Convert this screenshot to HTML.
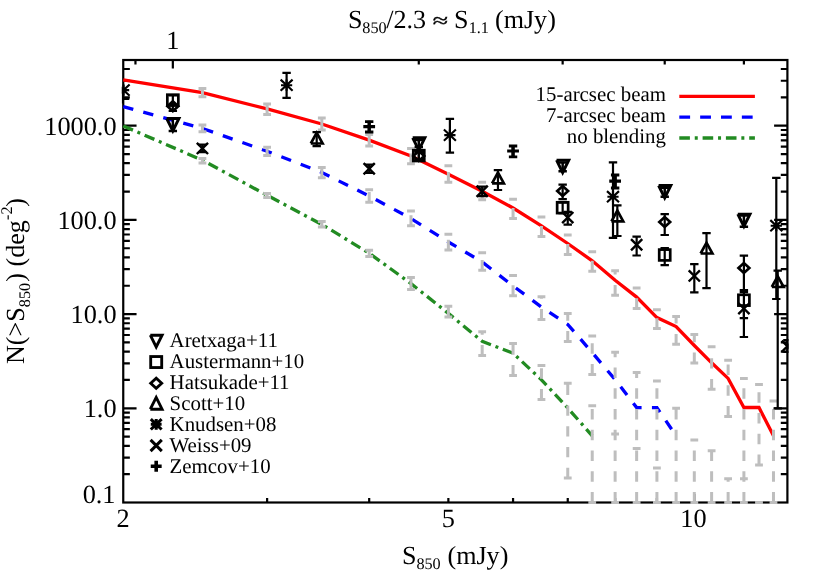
<!DOCTYPE html>
<html><head><meta charset="utf-8"><title>Number counts</title>
<style>
html,body{margin:0;padding:0;background:#fff;}
body{width:830px;height:581px;overflow:hidden;font-family:"Liberation Serif",serif;}
svg{display:block;will-change:transform;}
text{-webkit-font-smoothing:antialiased;text-rendering:geometricPrecision;}
text{fill:#000;}
</style></head><body>
<svg width="830" height="581" viewBox="0 0 830 581">
<rect width="830" height="581" fill="#fff"/>
<defs><clipPath id="pc"><rect x="121.75" y="59" width="666.75" height="444.5"/></clipPath></defs>
<!-- axes -->
<rect x="123.25" y="60" width="664.15" height="442.5" fill="none" stroke="#000" stroke-width="2.2"/>
<path d="M123.25 474.14h6.6M787.4 474.14h-6.6M123.25 457.56h6.6M787.4 457.56h-6.6M123.25 445.79h6.6M787.4 445.79h-6.6M123.25 436.66h6.6M787.4 436.66h-6.6M123.25 429.2h6.6M787.4 429.2h-6.6M123.25 422.89h6.6M787.4 422.89h-6.6M123.25 417.43h6.6M787.4 417.43h-6.6M123.25 412.61h6.6M787.4 412.61h-6.6M123.25 408.3h13.3M787.4 408.3h-13.3M123.25 379.94h6.6M787.4 379.94h-6.6M123.25 363.36h6.6M787.4 363.36h-6.6M123.25 351.59h6.6M787.4 351.59h-6.6M123.25 342.46h6.6M787.4 342.46h-6.6M123.25 335h6.6M787.4 335h-6.6M123.25 328.69h6.6M787.4 328.69h-6.6M123.25 323.23h6.6M787.4 323.23h-6.6M123.25 318.41h6.6M787.4 318.41h-6.6M123.25 314.1h13.3M787.4 314.1h-13.3M123.25 285.74h6.6M787.4 285.74h-6.6M123.25 269.16h6.6M787.4 269.16h-6.6M123.25 257.39h6.6M787.4 257.39h-6.6M123.25 248.26h6.6M787.4 248.26h-6.6M123.25 240.8h6.6M787.4 240.8h-6.6M123.25 234.49h6.6M787.4 234.49h-6.6M123.25 229.03h6.6M787.4 229.03h-6.6M123.25 224.21h6.6M787.4 224.21h-6.6M123.25 219.9h13.3M787.4 219.9h-13.3M123.25 191.54h6.6M787.4 191.54h-6.6M123.25 174.96h6.6M787.4 174.96h-6.6M123.25 163.19h6.6M787.4 163.19h-6.6M123.25 154.06h6.6M787.4 154.06h-6.6M123.25 146.6h6.6M787.4 146.6h-6.6M123.25 140.29h6.6M787.4 140.29h-6.6M123.25 134.83h6.6M787.4 134.83h-6.6M123.25 130.01h6.6M787.4 130.01h-6.6M123.25 125.7h13.3M787.4 125.7h-13.3M123.25 97.34h6.6M787.4 97.34h-6.6M123.25 80.76h6.6M787.4 80.76h-6.6M123.25 68.99h6.6M787.4 68.99h-6.6M267.12 502.5v-4.4M369.19 502.5v-4.4M448.37 502.5v-4.4M513.06 502.5v-4.4M567.75 502.5v-4.4M615.13 502.5v-4.4M656.92 502.5v-4.4M694.31 502.5v-8.6M135.46 60v4.4M172.84 60v8.6M418.78 60v4.4M562.65 60v4.4M664.72 60v4.4M743.9 60v4.4" fill="none" stroke="#000" stroke-width="2.2"/>
<!-- model curves -->
<g clip-path="url(#pc)">
<polyline points="123.25,125.9 202.43,160.2 267.12,195.3 321.81,224.4 369.19,253.2 410.98,283.6 448.37,313.4 482.18,341.3 513.06,353.2 541.46,379.8 567.75,408 592.23,435.8" fill="none" stroke="#228b22" stroke-width="3.3" stroke-dasharray="10.6 4.85 3 4.85" stroke-linejoin="miter"/>
<polyline points="123.25,106.6 202.43,128.4 267.12,151.3 321.81,172.5 369.19,196 410.98,218.5 448.37,242 482.18,262 513.06,285.9 541.46,307 567.75,324.4 592.23,352.6 615.13,379.6 636.64,407.6 656.92,407.6 676.11,435.8" fill="none" stroke="#0000ff" stroke-width="3.3" stroke-dasharray="10.4 10.35" stroke-linejoin="miter"/>
<polyline points="123.25,79.8 202.43,92.6 267.12,108.9 321.81,124 369.19,140.1 410.98,155.9 448.37,174.2 482.18,191.2 513.06,208 541.46,225.8 567.75,243.5 592.23,260.8 615.13,280.2 636.64,297.1 656.92,317.6 676.11,326.6 694.31,345.5 711.62,362.8 728.13,378.4 743.9,407.5 759,407.5 773.48,435.8" fill="none" stroke="#ff0000" stroke-width="3.3" stroke-linejoin="miter"/>
</g>
<!-- model error bars -->
<path d="M198.53 88.5h7.8M198.53 96.8h7.8M202.43 96.8V88.5M263.22 103.9h7.8M263.22 114.5h7.8M267.12 114.5V104.1M317.91 118h7.8M317.91 129.9h7.8M321.81 129.9V119.5M365.29 134.5h7.8M365.29 146h7.8M369.19 146V135.6M407.08 148.4h7.8M407.08 163.8h7.8M410.98 163.8V153.4M444.47 165.7h7.8M444.47 182.3h7.8M448.37 182.3V171.9M478.28 182.2h7.8M478.28 199.8h7.8M482.18 199.8V189.4M509.16 199.2h7.8M509.16 218.4h7.8M513.06 218.4V208M537.56 216.9h7.8M537.56 236.4h7.8M541.46 236.4V226M563.85 235h7.8M563.85 254.5h7.8M567.75 254.5V244.1M588.33 251.8h7.8M588.33 271.2h7.8M592.23 271.2V260.8M611.23 270.7h7.8M611.23 295.3h7.8M615.13 295.3V284.9M615.13 274.55V270.7M632.74 288h7.8M632.74 308.6h7.8M636.64 308.6V298.2M653.02 309.7h7.8M653.02 328.6h7.8M656.92 328.6V318.2M672.21 316.6h7.8M672.21 344.3h7.8M676.11 344.3V333.9M676.11 323.55V316.6M690.41 334.4h7.8M690.41 362.9h7.8M694.31 362.9V352.5M694.31 342.15V334.4M707.72 346.7h7.8M707.72 389.3h7.8M711.62 389.3V378.9M711.62 368.55V358.15M711.62 347.8V346.7M724.23 360.3h7.8M724.23 416.4h7.8M728.13 416.4V406M728.13 395.65V385.25M728.13 374.9V364.5M740 378.5h7.8M740 502.5h7.8M743.9 502.5V492.1M743.9 481.75V471.35M743.9 461V450.6M743.9 440.25V429.85M743.9 419.5V409.1M743.9 398.75V388.35M755.1 384.6h7.8M755.1 464.9h7.8M759 464.9V454.5M759 444.15V433.75M759 423.4V413M759 402.65V392.25M769.58 401.1h7.8M769.58 502.5h7.8M773.48 502.5V492.1M773.48 481.75V471.35M773.48 461V450.6M773.48 440.25V429.85M773.48 419.5V409.1M198.53 125.1h7.8M198.53 131.8h7.8M202.43 131.8V125.1M263.22 147.3h7.8M263.22 155.5h7.8M267.12 155.5V147.3M317.91 167.5h7.8M317.91 177.7h7.8M321.81 177.7V167.5M365.29 189.8h7.8M365.29 202.3h7.8M369.19 202.3V191.9M407.08 211h7.8M407.08 225.7h7.8M410.98 225.7V215.3M444.47 234.2h7.8M444.47 250.1h7.8M448.37 250.1V239.7M478.28 252.7h7.8M478.28 270.3h7.8M482.18 270.3V259.9M509.16 275.5h7.8M509.16 295.7h7.8M513.06 295.7V285.3M537.56 296.7h7.8M537.56 319.4h7.8M541.46 319.4V309M541.46 298.65V296.7M563.85 313.4h7.8M563.85 341.5h7.8M567.75 341.5V331.1M567.75 320.75V313.4M588.33 336.1h7.8M588.33 374.4h7.8M592.23 374.4V364M592.23 353.65V343.25M611.23 352.3h7.8M611.23 502.5h7.8M615.13 502.5V492.1M615.13 481.75V471.35M615.13 461V450.6M615.13 440.25V429.85M615.13 419.5V409.1M615.13 398.75V388.35M615.13 378V367.6M615.13 357.25V352.3M632.74 372.6h7.8M632.74 502.5h7.8M636.64 502.5V492.1M636.64 481.75V471.35M636.64 461V450.6M636.64 440.25V429.85M636.64 419.5V409.1M636.64 398.75V388.35M636.64 378V372.6M653.02 381.1h7.8M653.02 502.5h7.8M656.92 502.5V492.1M656.92 481.75V471.35M656.92 461V450.6M656.92 440.25V429.85M656.92 419.5V409.1M656.92 398.75V388.35M672.21 408.2h7.8M672.21 502.5h7.8M676.11 502.5V492.1M676.11 481.75V471.35M676.11 461V450.6M676.11 440.25V429.85M676.11 419.5V409.1M690.41 440.1h7.8M690.41 502.5h7.8M694.31 502.5V492.1M694.31 481.75V471.35M694.31 461V450.6M694.31 440.25V440.1M707.72 450.8h7.8M707.72 502.5h7.8M711.62 502.5V492.1M711.62 481.75V471.35M711.62 461V450.8M724.23 478.8h7.8M724.23 502.5h7.8M728.13 502.5V492.1M728.13 481.75V478.8M740 478.8h7.8M740 502.5h7.8M743.9 502.5V492.1M743.9 481.75V478.8M755.1 502.5h7.8M755.1 502.5h7.8M198.53 158.6h7.8M198.53 163h7.8M202.43 163V158.6M263.22 193.4h7.8M263.22 197.6h7.8M267.12 197.6V193.4M317.91 221.4h7.8M317.91 227h7.8M321.81 227V221.4M365.29 250.2h7.8M365.29 256.4h7.8M369.19 256.4V250.2M407.08 277.6h7.8M407.08 289.5h7.8M410.98 289.5V279.1M444.47 306.3h7.8M444.47 317h7.8M448.37 317V306.6M478.28 331.7h7.8M478.28 355.5h7.8M482.18 355.5V345.1M482.18 334.75V331.7M509.16 343.6h7.8M509.16 375.4h7.8M513.06 375.4V365M513.06 354.65V344.25M537.56 365.6h7.8M537.56 399.5h7.8M541.46 399.5V389.1M541.46 378.75V368.35M563.85 383.2h7.8M563.85 478.1h7.8M567.75 478.1V467.7M567.75 457.35V446.95M567.75 436.6V426.2M567.75 415.85V405.45M567.75 395.1V384.7M588.33 405.7h7.8M588.33 502.5h7.8M592.23 502.5V492.1M592.23 481.75V471.35M592.23 461V450.6M592.23 440.25V429.85M592.23 419.5V409.1M611.23 434h7.8M611.23 502.5h7.8M615.13 502.5V492.1M615.13 481.75V471.35M615.13 461V450.6M615.13 440.25V434M632.74 448.4h7.8M632.74 502.5h7.8M636.64 502.5V492.1M636.64 481.75V471.35M636.64 461V450.6M653.02 467.9h7.8M653.02 502.5h7.8M656.92 502.5V492.1M656.92 481.75V471.35" fill="none" stroke="#bebebe" stroke-width="3.0"/>
<!-- data points -->
<g clip-path="url(#pc)">
<path d="M172.84 118.6V131.1M168.64 118.6h8.4M168.64 131.1h8.4" fill="none" stroke="#000" stroke-width="2.5"/>
<path d="M166.74 118.5L178.94 118.5L172.84 130.9L166.74 118.5" fill="none" stroke="#000" stroke-width="2.95" stroke-linejoin="miter" stroke-miterlimit="10"/>
<path d="M418.78 140V147M414.58 140h8.4M414.58 147h8.4" fill="none" stroke="#000" stroke-width="2.5"/>
<path d="M412.68 137.8L424.88 137.8L418.78 150.2L412.68 137.8" fill="none" stroke="#000" stroke-width="2.95" stroke-linejoin="miter" stroke-miterlimit="10"/>
<path d="M562.65 162.4V171.2M558.45 162.4h8.4M558.45 171.2h8.4" fill="none" stroke="#000" stroke-width="2.5"/>
<path d="M556.55 160.2L568.75 160.2L562.65 172.6L556.55 160.2" fill="none" stroke="#000" stroke-width="2.95" stroke-linejoin="miter" stroke-miterlimit="10"/>
<path d="M664.72 187.7V196.8M660.52 187.7h8.4M660.52 196.8h8.4" fill="none" stroke="#000" stroke-width="2.5"/>
<path d="M658.62 185.5L670.82 185.5L664.72 197.9L658.62 185.5" fill="none" stroke="#000" stroke-width="2.95" stroke-linejoin="miter" stroke-miterlimit="10"/>
<path d="M743.9 215.6V226.65M739.7 215.6h8.4M739.7 226.65h8.4" fill="none" stroke="#000" stroke-width="2.5"/>
<path d="M737.8 214.1L750 214.1L743.9 226.5L737.8 214.1" fill="none" stroke="#000" stroke-width="2.95" stroke-linejoin="miter" stroke-miterlimit="10"/>
<path d="M172.84 95.3V105.4M168.64 95.3h8.4M168.64 105.4h8.4" fill="none" stroke="#000" stroke-width="2.2"/>
<rect x="167.34" y="94.7" width="11" height="10.8" fill="none" stroke="#000" stroke-width="2.7"/>
<path d="M418.78 151.5V160M414.58 151.5h8.4M414.58 160h8.4" fill="none" stroke="#000" stroke-width="2.2"/>
<rect x="413.28" y="150.2" width="11" height="10.8" fill="none" stroke="#000" stroke-width="2.7"/>
<path d="M562.65 202.3V213.2M558.45 202.3h8.4M558.45 213.2h8.4" fill="none" stroke="#000" stroke-width="2.2"/>
<rect x="557.15" y="202.3" width="11" height="10.8" fill="none" stroke="#000" stroke-width="2.7"/>
<path d="M664.72 248V265.2M660.52 248h8.4M660.52 265.2h8.4" fill="none" stroke="#000" stroke-width="2.2"/>
<rect x="659.22" y="249.6" width="11" height="10.8" fill="none" stroke="#000" stroke-width="2.7"/>
<path d="M743.9 292.2V318.1M739.7 292.2h8.4M739.7 318.1h8.4" fill="none" stroke="#000" stroke-width="2.2"/>
<rect x="738.4" y="294.8" width="11" height="10.8" fill="none" stroke="#000" stroke-width="2.7"/>
<path d="M172.84 105V111M168.64 105h8.4M168.64 111h8.4" fill="none" stroke="#000" stroke-width="2.2"/>
<path d="M167.44 106.3L172.84 101.4L178.24 106.3L172.84 111.2Z" fill="none" stroke="#000" stroke-width="2.7" stroke-linejoin="miter" stroke-miterlimit="10"/>
<path d="M418.78 152V160M414.58 152h8.4M414.58 160h8.4" fill="none" stroke="#000" stroke-width="2.2"/>
<path d="M413.38 156L418.78 151.1L424.18 156L418.78 160.9Z" fill="none" stroke="#000" stroke-width="2.7" stroke-linejoin="miter" stroke-miterlimit="10"/>
<path d="M562.65 184.6V199.2M558.45 184.6h8.4M558.45 199.2h8.4" fill="none" stroke="#000" stroke-width="2.2"/>
<path d="M557.25 191L562.65 186.1L568.05 191L562.65 195.9Z" fill="none" stroke="#000" stroke-width="2.7" stroke-linejoin="miter" stroke-miterlimit="10"/>
<path d="M664.72 214.2V235M660.52 214.2h8.4M660.52 235h8.4" fill="none" stroke="#000" stroke-width="2.2"/>
<path d="M659.32 222L664.72 217.1L670.12 222L664.72 226.9Z" fill="none" stroke="#000" stroke-width="2.7" stroke-linejoin="miter" stroke-miterlimit="10"/>
<path d="M743.9 255.6V290M739.7 255.6h8.4M739.7 290h8.4" fill="none" stroke="#000" stroke-width="2.2"/>
<path d="M738.5 268L743.9 263.1L749.3 268L743.9 272.9Z" fill="none" stroke="#000" stroke-width="2.7" stroke-linejoin="miter" stroke-miterlimit="10"/>
<path d="M316.71 132.1V146.2M312.51 132.1h8.4M312.51 146.2h8.4" fill="none" stroke="#000" stroke-width="2.2"/>
<path d="M310.81 143.5L322.61 143.5L316.71 132.7L310.81 143.5" fill="none" stroke="#000" stroke-width="2.7" stroke-linejoin="miter" stroke-miterlimit="10"/>
<path d="M497.96 170.1V190M493.76 170.1h8.4M493.76 190h8.4" fill="none" stroke="#000" stroke-width="2.2"/>
<path d="M492.06 183.4L503.86 183.4L497.96 172.6L492.06 183.4" fill="none" stroke="#000" stroke-width="2.7" stroke-linejoin="miter" stroke-miterlimit="10"/>
<path d="M617.34 205.4V236M613.14 205.4h8.4M613.14 236h8.4" fill="none" stroke="#000" stroke-width="2.2"/>
<path d="M611.44 221.3L623.24 221.3L617.34 210.5L611.44 221.3" fill="none" stroke="#000" stroke-width="2.7" stroke-linejoin="miter" stroke-miterlimit="10"/>
<path d="M706.51 233.1V288.1M702.31 233.1h8.4M702.31 288.1h8.4" fill="none" stroke="#000" stroke-width="2.2"/>
<path d="M700.61 253.5L712.41 253.5L706.51 242.7L700.61 253.5" fill="none" stroke="#000" stroke-width="2.7" stroke-linejoin="miter" stroke-miterlimit="10"/>
<path d="M777.72 270.6V408.3M773.52 270.6h8.4M773.52 408.3h8.4" fill="none" stroke="#000" stroke-width="2.2"/>
<path d="M771.82 287L783.62 287L777.72 276.2L771.82 287" fill="none" stroke="#000" stroke-width="2.7" stroke-linejoin="miter" stroke-miterlimit="10"/>
<path d="M122.8 92.5V103.6M122.8 98.8H129.3" fill="none" stroke="#000" stroke-width="2.3"/>
<path d="M118 90.1H129.2M123.6 84.5V95.7M117.6 84.5L129.6 95.7M117.6 95.7L129.6 84.5" fill="none" stroke="#000" stroke-width="2.15"/>
<path d="M286.6 72.9V97.9M282.4 72.9h8.4M282.4 97.9h8.4" fill="none" stroke="#000" stroke-width="2.2"/>
<path d="M281 85.2H292.2M286.6 79.6V90.8M280.6 79.6L292.6 90.8M280.6 90.8L292.6 79.6" fill="none" stroke="#000" stroke-width="2.15"/>
<path d="M449.9 118.8V152.6M445.7 118.8h8.4M445.7 152.6h8.4" fill="none" stroke="#000" stroke-width="2.2"/>
<path d="M444.3 135.1H455.5M449.9 129.5V140.7M443.9 129.5L455.9 140.7M443.9 140.7L455.9 129.5" fill="none" stroke="#000" stroke-width="2.15"/>
<path d="M613 162.3V237.8M608.8 162.3h8.4M608.8 237.8h8.4" fill="none" stroke="#000" stroke-width="2.2"/>
<path d="M607.4 196.7H618.6M613 191.1V202.3M607 191.1L619 202.3M607 202.3L619 191.1" fill="none" stroke="#000" stroke-width="2.15"/>
<path d="M776.3 177.8V299M772.1 177.8h8.4M772.1 299h8.4" fill="none" stroke="#000" stroke-width="2.2"/>
<path d="M770.7 225.7H781.9M776.3 220.1V231.3M770.3 220.1L782.3 231.3M770.3 231.3L782.3 220.1" fill="none" stroke="#000" stroke-width="2.15"/>
<path d="M202.43 144.6V152.2M198.23 144.6h8.4M198.23 152.2h8.4" fill="none" stroke="#000" stroke-width="2.2"/>
<path d="M196.82 142.79L208.04 154.01M196.82 154.01L208.04 142.79" fill="none" stroke="#000" stroke-width="2.4000000000000004"/>
<path d="M369.19 164.6V173M364.99 164.6h8.4M364.99 173h8.4" fill="none" stroke="#000" stroke-width="2.2"/>
<path d="M363.58 163.19L374.8 174.41M363.58 174.41L374.8 163.19" fill="none" stroke="#000" stroke-width="2.4000000000000004"/>
<path d="M482.18 186.6V196.2M477.98 186.6h8.4M477.98 196.2h8.4" fill="none" stroke="#000" stroke-width="2.2"/>
<path d="M476.57 185.69L487.79 196.91M476.57 196.91L487.79 185.69" fill="none" stroke="#000" stroke-width="2.4000000000000004"/>
<path d="M567.75 211.9V224.6M563.55 211.9h8.4M563.55 224.6h8.4" fill="none" stroke="#000" stroke-width="2.2"/>
<path d="M562.14 211.99L573.36 223.21M562.14 223.21L573.36 211.99" fill="none" stroke="#000" stroke-width="2.4000000000000004"/>
<path d="M636.64 236.6V255.5M632.44 236.6h8.4M632.44 255.5h8.4" fill="none" stroke="#000" stroke-width="2.2"/>
<path d="M631.03 239.19L642.25 250.41M631.03 250.41L642.25 239.19" fill="none" stroke="#000" stroke-width="2.4000000000000004"/>
<path d="M694.31 264.1V292.3M690.11 264.1h8.4M690.11 292.3h8.4" fill="none" stroke="#000" stroke-width="2.2"/>
<path d="M688.7 270.29L699.92 281.51M688.7 281.51L699.92 270.29" fill="none" stroke="#000" stroke-width="2.4000000000000004"/>
<path d="M743.9 305.8V337M739.7 305.8h8.4M739.7 337h8.4" fill="none" stroke="#000" stroke-width="2.2"/>
<path d="M738.29 302.99L749.51 314.21M738.29 314.21L749.51 302.99" fill="none" stroke="#000" stroke-width="2.4000000000000004"/>
<path d="M787.4 340V352M783.2 340h8.4M783.2 352h8.4" fill="none" stroke="#000" stroke-width="2.2"/>
<path d="M781.79 340.59L793.01 351.81M781.79 351.81L793.01 340.59" fill="none" stroke="#000" stroke-width="2.4000000000000004"/>
<path d="M369.19 121.6V132M364.99 121.6h8.4M364.99 132h8.4" fill="none" stroke="#000" stroke-width="2.9"/>
<path d="M363.31 126.7H375.08M369.19 120.81V132.59" fill="none" stroke="#000" stroke-width="3.2"/>
<path d="M513.06 146V156.9M508.86 146h8.4M508.86 156.9h8.4" fill="none" stroke="#000" stroke-width="2.9"/>
<path d="M507.17 151H518.94M513.06 145.12V156.88" fill="none" stroke="#000" stroke-width="3.2"/>
<path d="M615.13 175V188M610.93 175h8.4M610.93 188h8.4" fill="none" stroke="#000" stroke-width="2.9"/>
<path d="M609.25 181.2H621.02M615.13 175.31V187.08" fill="none" stroke="#000" stroke-width="3.2"/>
</g>
<!-- legends -->
<path d="M150.3 335.2L162.1 335.2L156.2 347L150.3 335.2" fill="none" stroke="#000" stroke-width="2.9" stroke-linejoin="miter" stroke-miterlimit="10"/>
<text x="169.6" y="346.65" font-family="Liberation Serif, serif" font-size="20.87">Aretxaga+11</text>
<rect x="150.7" y="356.55" width="11" height="11" fill="none" stroke="#000" stroke-width="2.85"/>
<text x="169.6" y="367.67" font-family="Liberation Serif, serif" font-size="20.87">Austermann+10</text>
<path d="M150.7 383.3L156.2 378.3L161.7 383.3L156.2 388.3Z" fill="none" stroke="#000" stroke-width="2.85" stroke-linejoin="miter" stroke-miterlimit="10"/>
<text x="169.6" y="388.69" font-family="Liberation Serif, serif" font-size="20.87">Hatsukade+11</text>
<path d="M150.3 409.2L162.1 409.2L156.2 397.4L150.3 409.2" fill="none" stroke="#000" stroke-width="2.9" stroke-linejoin="miter" stroke-miterlimit="10"/>
<text x="169.6" y="409.71" font-family="Liberation Serif, serif" font-size="20.87">Scott+10</text>
<path d="M150.8 424.3H161.6M156.2 418.9V429.7M150.8 419.1L161.6 429.5M150.8 429.5L161.6 419.1" fill="none" stroke="#000" stroke-width="3.05"/>
<text x="169.6" y="430.73" font-family="Liberation Serif, serif" font-size="20.87">Knudsen+08</text>
<path d="M150.59 439.89L161.81 451.11M150.59 451.11L161.81 439.89" fill="none" stroke="#000" stroke-width="3.0"/>
<text x="169.6" y="451.75" font-family="Liberation Serif, serif" font-size="20.87">Weiss+09</text>
<path d="M150.74 466.3H161.66M156.2 460.84V471.76" fill="none" stroke="#000" stroke-width="3.6"/>
<text x="169.6" y="472.77" font-family="Liberation Serif, serif" font-size="20.87">Zemcov+10</text>
<text x="665.9" y="101.1" text-anchor="end" font-family="Liberation Serif, serif" font-size="20.87">15-arcsec beam</text>
<path d="M679.3 96.4H754.9" fill="none" stroke="#ff0000" stroke-width="3.3"/>
<text x="665.9" y="121.85" text-anchor="end" font-family="Liberation Serif, serif" font-size="20.87">7-arcsec beam</text>
<path d="M679.3 117.2H754.9" fill="none" stroke="#0000ff" stroke-width="3.3" stroke-dasharray="10.8 10.05"/>
<text x="665.9" y="142.6" text-anchor="end" font-family="Liberation Serif, serif" font-size="20.87">no blending</text>
<path d="M679.3 138H754.9" fill="none" stroke="#228b22" stroke-width="3.3" stroke-dasharray="10.6 4.85 3 4.85"/>
<!-- labels -->
<text x="116.6" y="134.6" text-anchor="end" font-family="Liberation Serif, serif" font-size="26.3">1000.0</text>
<text x="116.6" y="228.8" text-anchor="end" font-family="Liberation Serif, serif" font-size="26.3">100.0</text>
<text x="116.6" y="323" text-anchor="end" font-family="Liberation Serif, serif" font-size="26.3">10.0</text>
<text x="116.6" y="417.2" text-anchor="end" font-family="Liberation Serif, serif" font-size="26.3">1.0</text>
<text x="115.5" y="503.2" text-anchor="end" font-family="Liberation Serif, serif" font-size="26.3">0.1</text>
<text x="123" y="527" text-anchor="middle" font-family="Liberation Serif, serif" font-size="26.3">2</text>
<text x="448.4" y="527" text-anchor="middle" font-family="Liberation Serif, serif" font-size="26.3">5</text>
<text x="693.5" y="527" text-anchor="middle" font-family="Liberation Serif, serif" font-size="26.3">10</text>
<text x="172.8" y="48.9" text-anchor="middle" font-family="Liberation Serif, serif" font-size="26.3">1</text>
<text x="347.9" y="27.6" font-family="Liberation Serif, serif" font-size="26.1">S</text>
<text x="362.3" y="33.4" font-family="Liberation Serif, serif" font-size="16.2">850</text>
<text x="386.3" y="27.6" font-family="Liberation Serif, serif" font-size="26.1">/2.3</text>
<text transform="translate(439.8 20.55) scale(1.07 0.74) translate(-439.2 -19.15)" x="432.6" y="27.6" font-family="Liberation Serif, serif" font-size="26.1" stroke="#000" stroke-width="0.5">≈</text>
<text x="453.9" y="27.6" font-family="Liberation Serif, serif" font-size="26.1">S</text>
<text x="468.7" y="33.4" font-family="Liberation Serif, serif" font-size="16.2">1.1</text>
<text x="494.95" y="27.6" font-family="Liberation Serif, serif" font-size="26.1">(mJy)</text>
<text x="402.1" y="563.5" font-family="Liberation Serif, serif" font-size="26.1">S</text>
<text x="416.4" y="569.3" font-family="Liberation Serif, serif" font-size="16.2">850</text>
<text x="447.45" y="563.5" font-family="Liberation Serif, serif" font-size="26.1">(mJy)</text>
<g transform="translate(24.3 364) rotate(-90)"><text x="0" y="0" font-family="Liberation Serif, serif" font-size="26.1">N(&gt;S</text><text x="56.8" y="6.0" font-family="Liberation Serif, serif" font-size="16.2">850</text><text x="82.3" y="0" font-family="Liberation Serif, serif" font-size="26.1">) (deg</text><text x="144.0" y="-12.0" font-family="Liberation Serif, serif" font-size="16.2">-2</text><text x="157.2" y="0" font-family="Liberation Serif, serif" font-size="26.1">)</text></g>
</svg>
</body></html>
